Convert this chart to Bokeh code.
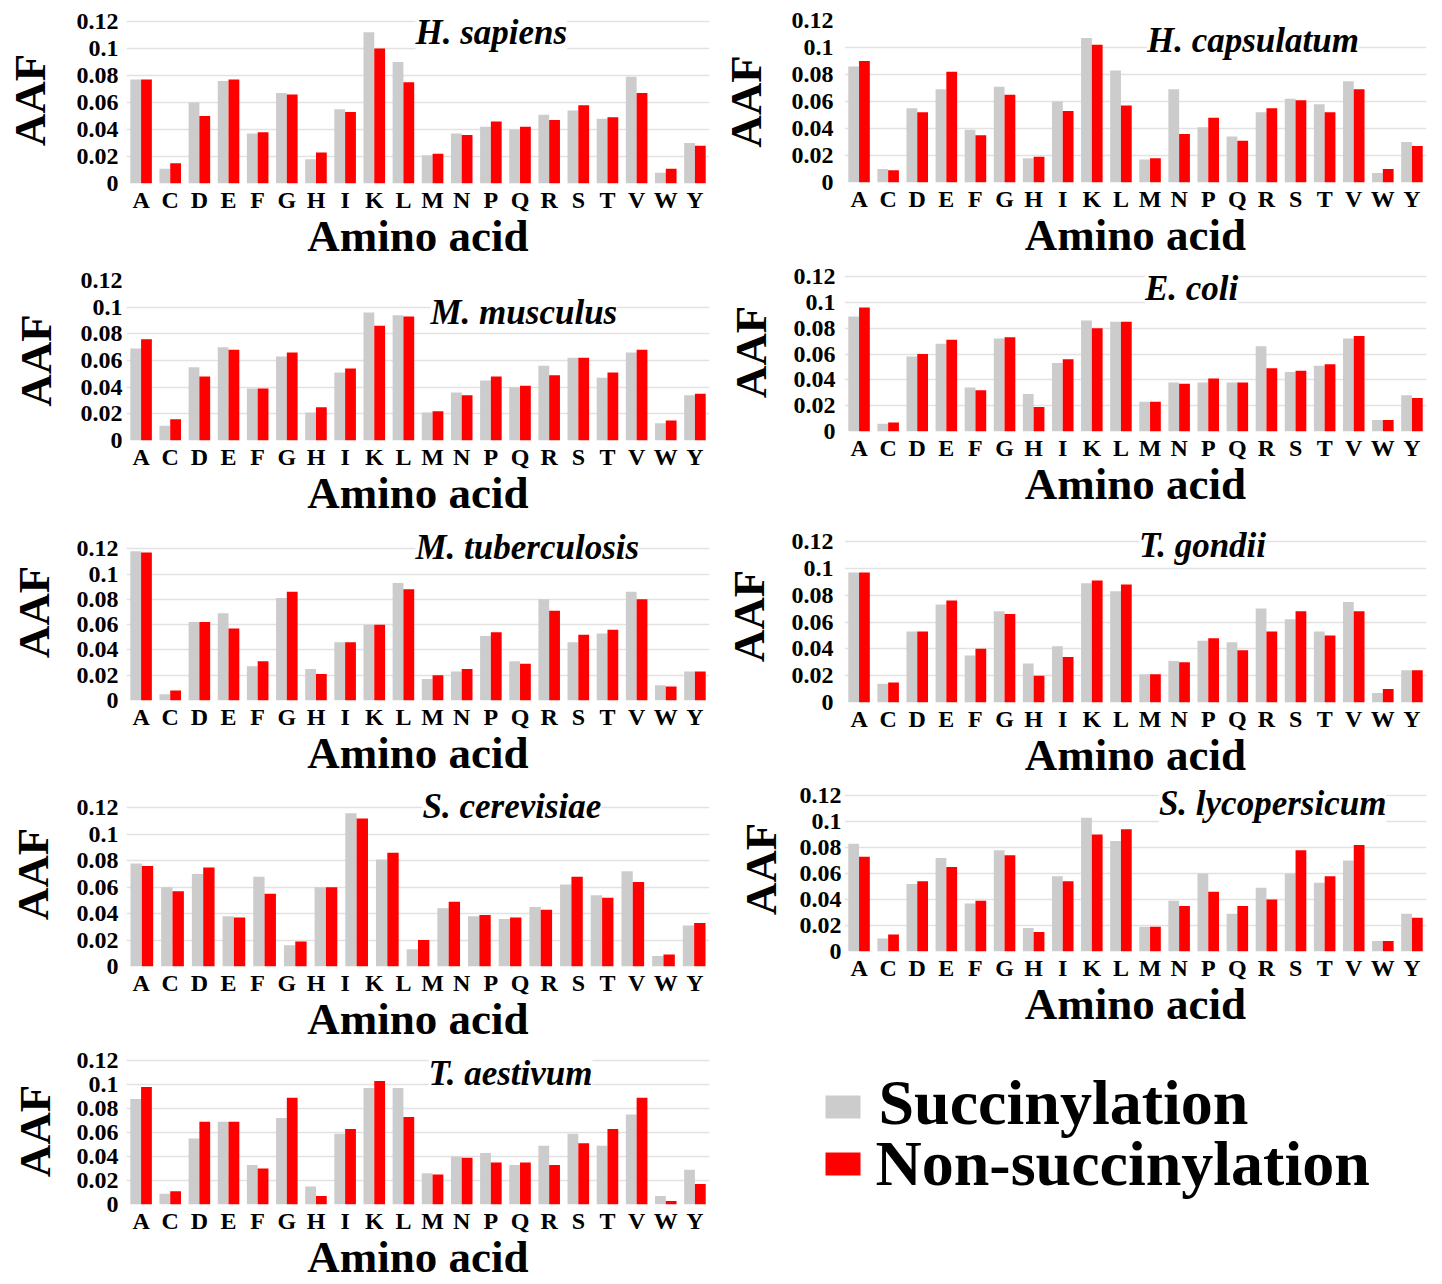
import numpy as np
from bokeh.plotting import figure
from bokeh.models import Range1d, FixedTicker, CustomJSTickFormatter, Label
from bokeh.layouts import row, column
from bokeh.embed import file_html
from bokeh.resources import INLINE

# ---------------- data ----------------
amino_acids = ["A", "C", "D", "E", "F", "G", "H", "I", "K", "L",
               "M", "N", "P", "Q", "R", "S", "T", "V", "W", "Y"]
series_names = ["Succinylation", "Non-succinylation"]
y_tick_values = [0, 0.02, 0.04, 0.06, 0.08, 0.1, 0.12]

hsap_succ = [0.077, 0.011, 0.060, 0.076, 0.037, 0.067, 0.018, 0.055, 0.112, 0.090,
             0.021, 0.037, 0.042, 0.040, 0.051, 0.054, 0.048, 0.079, 0.008, 0.030]
hsap_non = [0.077, 0.015, 0.050, 0.077, 0.038, 0.066, 0.023, 0.053, 0.100, 0.075,
            0.022, 0.036, 0.046, 0.042, 0.047, 0.058, 0.049, 0.067, 0.011, 0.028]

hcap_succ = [0.086, 0.010, 0.055, 0.069, 0.039, 0.071, 0.018, 0.060, 0.107, 0.083,
             0.017, 0.069, 0.041, 0.034, 0.052, 0.062, 0.058, 0.075, 0.007, 0.030]
hcap_non = [0.090, 0.009, 0.052, 0.082, 0.035, 0.065, 0.019, 0.053, 0.102, 0.057,
            0.018, 0.036, 0.048, 0.031, 0.055, 0.061, 0.052, 0.069, 0.010, 0.027]

mmus_succ = [0.069, 0.011, 0.055, 0.070, 0.039, 0.063, 0.021, 0.051, 0.096, 0.094,
             0.021, 0.036, 0.045, 0.040, 0.056, 0.062, 0.047, 0.066, 0.013, 0.034]
mmus_non = [0.076, 0.016, 0.048, 0.068, 0.039, 0.066, 0.025, 0.054, 0.086, 0.093,
            0.022, 0.034, 0.048, 0.041, 0.049, 0.062, 0.051, 0.068, 0.015, 0.035]

ecol_succ = [0.089, 0.006, 0.058, 0.068, 0.034, 0.072, 0.029, 0.053, 0.086, 0.085,
             0.023, 0.038, 0.038, 0.038, 0.066, 0.046, 0.051, 0.072, 0.009, 0.028]
ecol_non = [0.096, 0.007, 0.060, 0.071, 0.032, 0.073, 0.019, 0.056, 0.080, 0.085,
            0.023, 0.037, 0.041, 0.038, 0.049, 0.047, 0.052, 0.074, 0.009, 0.026]

mtub_succ = [0.118, 0.005, 0.062, 0.069, 0.027, 0.081, 0.025, 0.046, 0.060, 0.093,
             0.017, 0.023, 0.051, 0.031, 0.080, 0.046, 0.053, 0.086, 0.012, 0.023]
mtub_non = [0.117, 0.008, 0.062, 0.057, 0.031, 0.086, 0.021, 0.046, 0.060, 0.088,
            0.020, 0.025, 0.054, 0.029, 0.071, 0.052, 0.056, 0.080, 0.011, 0.023]

tgon_succ = [0.097, 0.014, 0.053, 0.073, 0.035, 0.068, 0.029, 0.042, 0.089, 0.083,
             0.021, 0.031, 0.046, 0.045, 0.070, 0.062, 0.053, 0.075, 0.007, 0.024]
tgon_non = [0.097, 0.015, 0.053, 0.076, 0.040, 0.066, 0.020, 0.034, 0.091, 0.088,
            0.021, 0.030, 0.048, 0.039, 0.053, 0.068, 0.050, 0.068, 0.010, 0.024]

# the S. cerevisiae panel shows 19 bar pairs under the 20 letters
scer_succ = [0.078, 0.060, 0.070, 0.038, 0.068, 0.016, 0.060, 0.116, 0.081, 0.013,
             0.044, 0.038, 0.036, 0.045, 0.062, 0.054, 0.072, 0.008, 0.031]
scer_non = [0.076, 0.057, 0.075, 0.037, 0.055, 0.019, 0.060, 0.112, 0.086, 0.020,
            0.049, 0.039, 0.037, 0.043, 0.068, 0.052, 0.064, 0.009, 0.033]

slyc_succ = [0.083, 0.010, 0.052, 0.072, 0.037, 0.078, 0.018, 0.058, 0.103, 0.085,
             0.019, 0.039, 0.060, 0.029, 0.049, 0.060, 0.053, 0.070, 0.008, 0.029]
slyc_non = [0.073, 0.013, 0.054, 0.065, 0.039, 0.074, 0.015, 0.054, 0.090, 0.094,
            0.019, 0.035, 0.046, 0.035, 0.040, 0.078, 0.058, 0.082, 0.008, 0.026]

taes_succ = [0.088, 0.009, 0.055, 0.069, 0.033, 0.072, 0.015, 0.059, 0.097, 0.097,
             0.026, 0.040, 0.043, 0.033, 0.049, 0.059, 0.049, 0.075, 0.007, 0.029]
taes_non = [0.098, 0.011, 0.069, 0.069, 0.030, 0.089, 0.007, 0.063, 0.103, 0.073,
            0.025, 0.039, 0.035, 0.035, 0.033, 0.051, 0.063, 0.089, 0.003, 0.017]

# ---------------- styles / layout (page pixel coordinates) ----------------
FONT = "Liberation Serif"
GREY = "#CCCCCC"
RED = "#FF0000"
GRID = "#E2E2E2"
BW = 0.37

# columns: figure x, figure width, shared frame left / right
LEFT_COL = dict(x=0, w=717, fl=126, fr=709)
RIGHT_COL = dict(x=717, w=725, fl=841, fr=1426)

# top/h: figure box; ft/fb: frame top/bottom; tst/ast: tick & axis-label standoffs
left_specs = [
    dict(title="H. sapiens", s=hsap_succ, n=hsap_non, top=0, h=263, ft=16, fb=183, ymax=0.1237,
         tst=8, ast=19, tx=415, ty=32),
    dict(title="M. musculus", s=mmus_succ, n=mmus_non, top=263, h=257, ft=280, fb=440, ymax=0.12,
         tst=4, ast=17, tx=430, ty=312),
    dict(title="M. tuberculosis", s=mtub_succ, n=mtub_non, top=520, h=260, ft=523, fb=700, ymax=0.14,
         tst=8, ast=15, tx=415, ty=547),
    dict(title="S. cerevisiae", s=scer_succ, n=scer_non, top=780, h=266, ft=781, fb=966, ymax=0.14,
         tst=8, ast=16, tx=422, ty=806),
    dict(title="T. aestivum", s=taes_succ, n=taes_non, top=1046, h=238, ft=1057, fb=1204, ymax=0.1225,
         tst=8, ast=14, tx=428, ty=1073),
]
right_specs = [
    dict(title="H. capsulatum", s=hcap_succ, n=hcap_non, top=0, h=262, ft=20, fb=182, ymax=0.12,
         tst=11, ast=18, tx=1145, ty=40),
    dict(title="E. coli", s=ecol_succ, n=ecol_non, top=262, h=249, ft=272, fb=431, ymax=0.1231,
         tst=9, ast=15, tx=1143, ty=288),
    dict(title="T. gondii", s=tgon_succ, n=tgon_non, top=511, h=271, ft=529, fb=702, ymax=0.129,
         tst=11, ast=15, tx=1137, ty=545),
    dict(title="S. lycopersicum", s=slyc_succ, n=slyc_non, top=782, h=249, ft=786, fb=951, ymax=0.127,
         tst=3, ast=11, tx=1157, ty=803),
]
LEGEND_TOP = 1031
LEGEND_H = 1284 - LEGEND_TOP
# legend geometry (page pixels)
LEG_SW_LEFT, LEG_SW_RIGHT = 825, 860
LEG_SW_TOPS = [1095, 1152]
LEG_SW_H = 23
LEG_TXT_X = [878, 875]
LEG_TXT_Y = [1102, 1163]

y_fmt = CustomJSTickFormatter(code="""
if (tick > 0.125) return '';
if (Math.abs(tick) < 1e-9) return '0';
return String(parseFloat(tick.toFixed(2)));
""")


def style_axis(ax, label, label_standoff, tick_standoff):
    ax.axis_label = label
    ax.axis_label_text_font = FONT
    ax.axis_label_text_font_style = "bold"
    ax.axis_label_text_font_size = "45px"
    ax.axis_label_text_color = "black"
    ax.axis_label_standoff = label_standoff
    ax.major_label_text_font = FONT
    ax.major_label_text_font_style = "bold"
    ax.major_label_text_font_size = "24px"
    ax.major_label_text_color = "black"
    ax.major_label_standoff = tick_standoff
    ax.axis_line_color = None
    ax.major_tick_line_color = None
    ax.minor_tick_line_color = None
    ax.major_tick_out = 0
    ax.minor_tick_out = 0
    ax.major_tick_in = 0
    ax.minor_tick_in = 0


def make_panel(spec, col):
    succ, non = spec["s"], spec["n"]
    nslots = len(succ)
    p = figure(width=col["w"], height=spec["h"],
               x_range=Range1d(0, nslots), y_range=Range1d(0, spec["ymax"]),
               output_backend="svg", toolbar_location=None,
               min_border_left=col["fl"] - col["x"],
               min_border_right=col["x"] + col["w"] - col["fr"],
               min_border_top=spec["ft"] - spec["top"],
               min_border_bottom=spec["top"] + spec["h"] - spec["fb"])
    p.outline_line_color = None
    p.background_fill_color = "white"
    p.border_fill_color = "white"

    idx = np.arange(nslots) + 0.5
    p.vbar(x=idx - BW / 2, top=succ, width=BW, fill_color=GREY, line_color=None)
    p.vbar(x=idx + BW / 2, top=non, width=BW, fill_color=RED, line_color=None)

    yt = list(y_tick_values) + ([0.14] if spec["ymax"] >= 0.14 else [])
    p.xgrid.visible = False
    p.ygrid.ticker = FixedTicker(ticks=yt)
    p.ygrid.grid_line_color = GRID
    p.ygrid.grid_line_width = 1.5

    xa = p.xaxis[0]
    xa.ticker = FixedTicker(ticks=[(j + 0.5) * nslots / len(amino_acids)
                                   for j in range(len(amino_acids))])
    xa.formatter = CustomJSTickFormatter(args=dict(labels=amino_acids, n=nslots), code="""
const k = Math.round(tick * labels.length / n - 0.5);
return labels[k];
""")
    style_axis(xa, "Amino acid", -5, 3)

    ya = p.yaxis[0]
    ya.ticker = FixedTicker(ticks=yt)
    ya.formatter = y_fmt
    style_axis(ya, "AAF", spec["ast"], spec["tst"])

    tx = (spec["tx"] - col["fl"]) / (col["fr"] - col["fl"]) * nslots
    ty = (spec["fb"] - spec["ty"]) / (spec["fb"] - spec["ft"]) * spec["ymax"]
    p.add_layout(Label(x=tx, y=ty, text=spec["title"], text_font=FONT,
                       text_font_style="bold italic", text_font_size="35px",
                       text_color="black", text_align="left", text_baseline="middle",
                       background_fill_color="white"))
    return p


left_figs = [make_panel(s, LEFT_COL) for s in left_specs]
right_figs = [make_panel(s, RIGHT_COL) for s in right_specs]

# legend panel: pixel-scaled ranges (page pixels), y pointing down
lg = figure(width=RIGHT_COL["w"], height=LEGEND_H,
            x_range=Range1d(RIGHT_COL["x"], RIGHT_COL["x"] + RIGHT_COL["w"]),
            y_range=Range1d(LEGEND_TOP + LEGEND_H, LEGEND_TOP),
            output_backend="svg", toolbar_location=None,
            x_axis_location=None, y_axis_location=None, min_border=0)
lg.outline_line_color = None
lg.grid.visible = False
lg.quad(left=[LEG_SW_LEFT] * 2, right=[LEG_SW_RIGHT] * 2,
        top=LEG_SW_TOPS, bottom=[t + LEG_SW_H for t in LEG_SW_TOPS],
        fill_color=[GREY, RED], line_color=None)
lg.text(x=LEG_TXT_X, y=LEG_TXT_Y, text=series_names,
        text_font="Liberation Serif", text_font_style="bold", text_font_size="64px",
        text_color="black", text_align="left", text_baseline="middle")

layout = row(column(*left_figs), column(column(*right_figs), lg))

with open("out.html", "w") as f:
    f.write(file_html(layout, INLINE))
